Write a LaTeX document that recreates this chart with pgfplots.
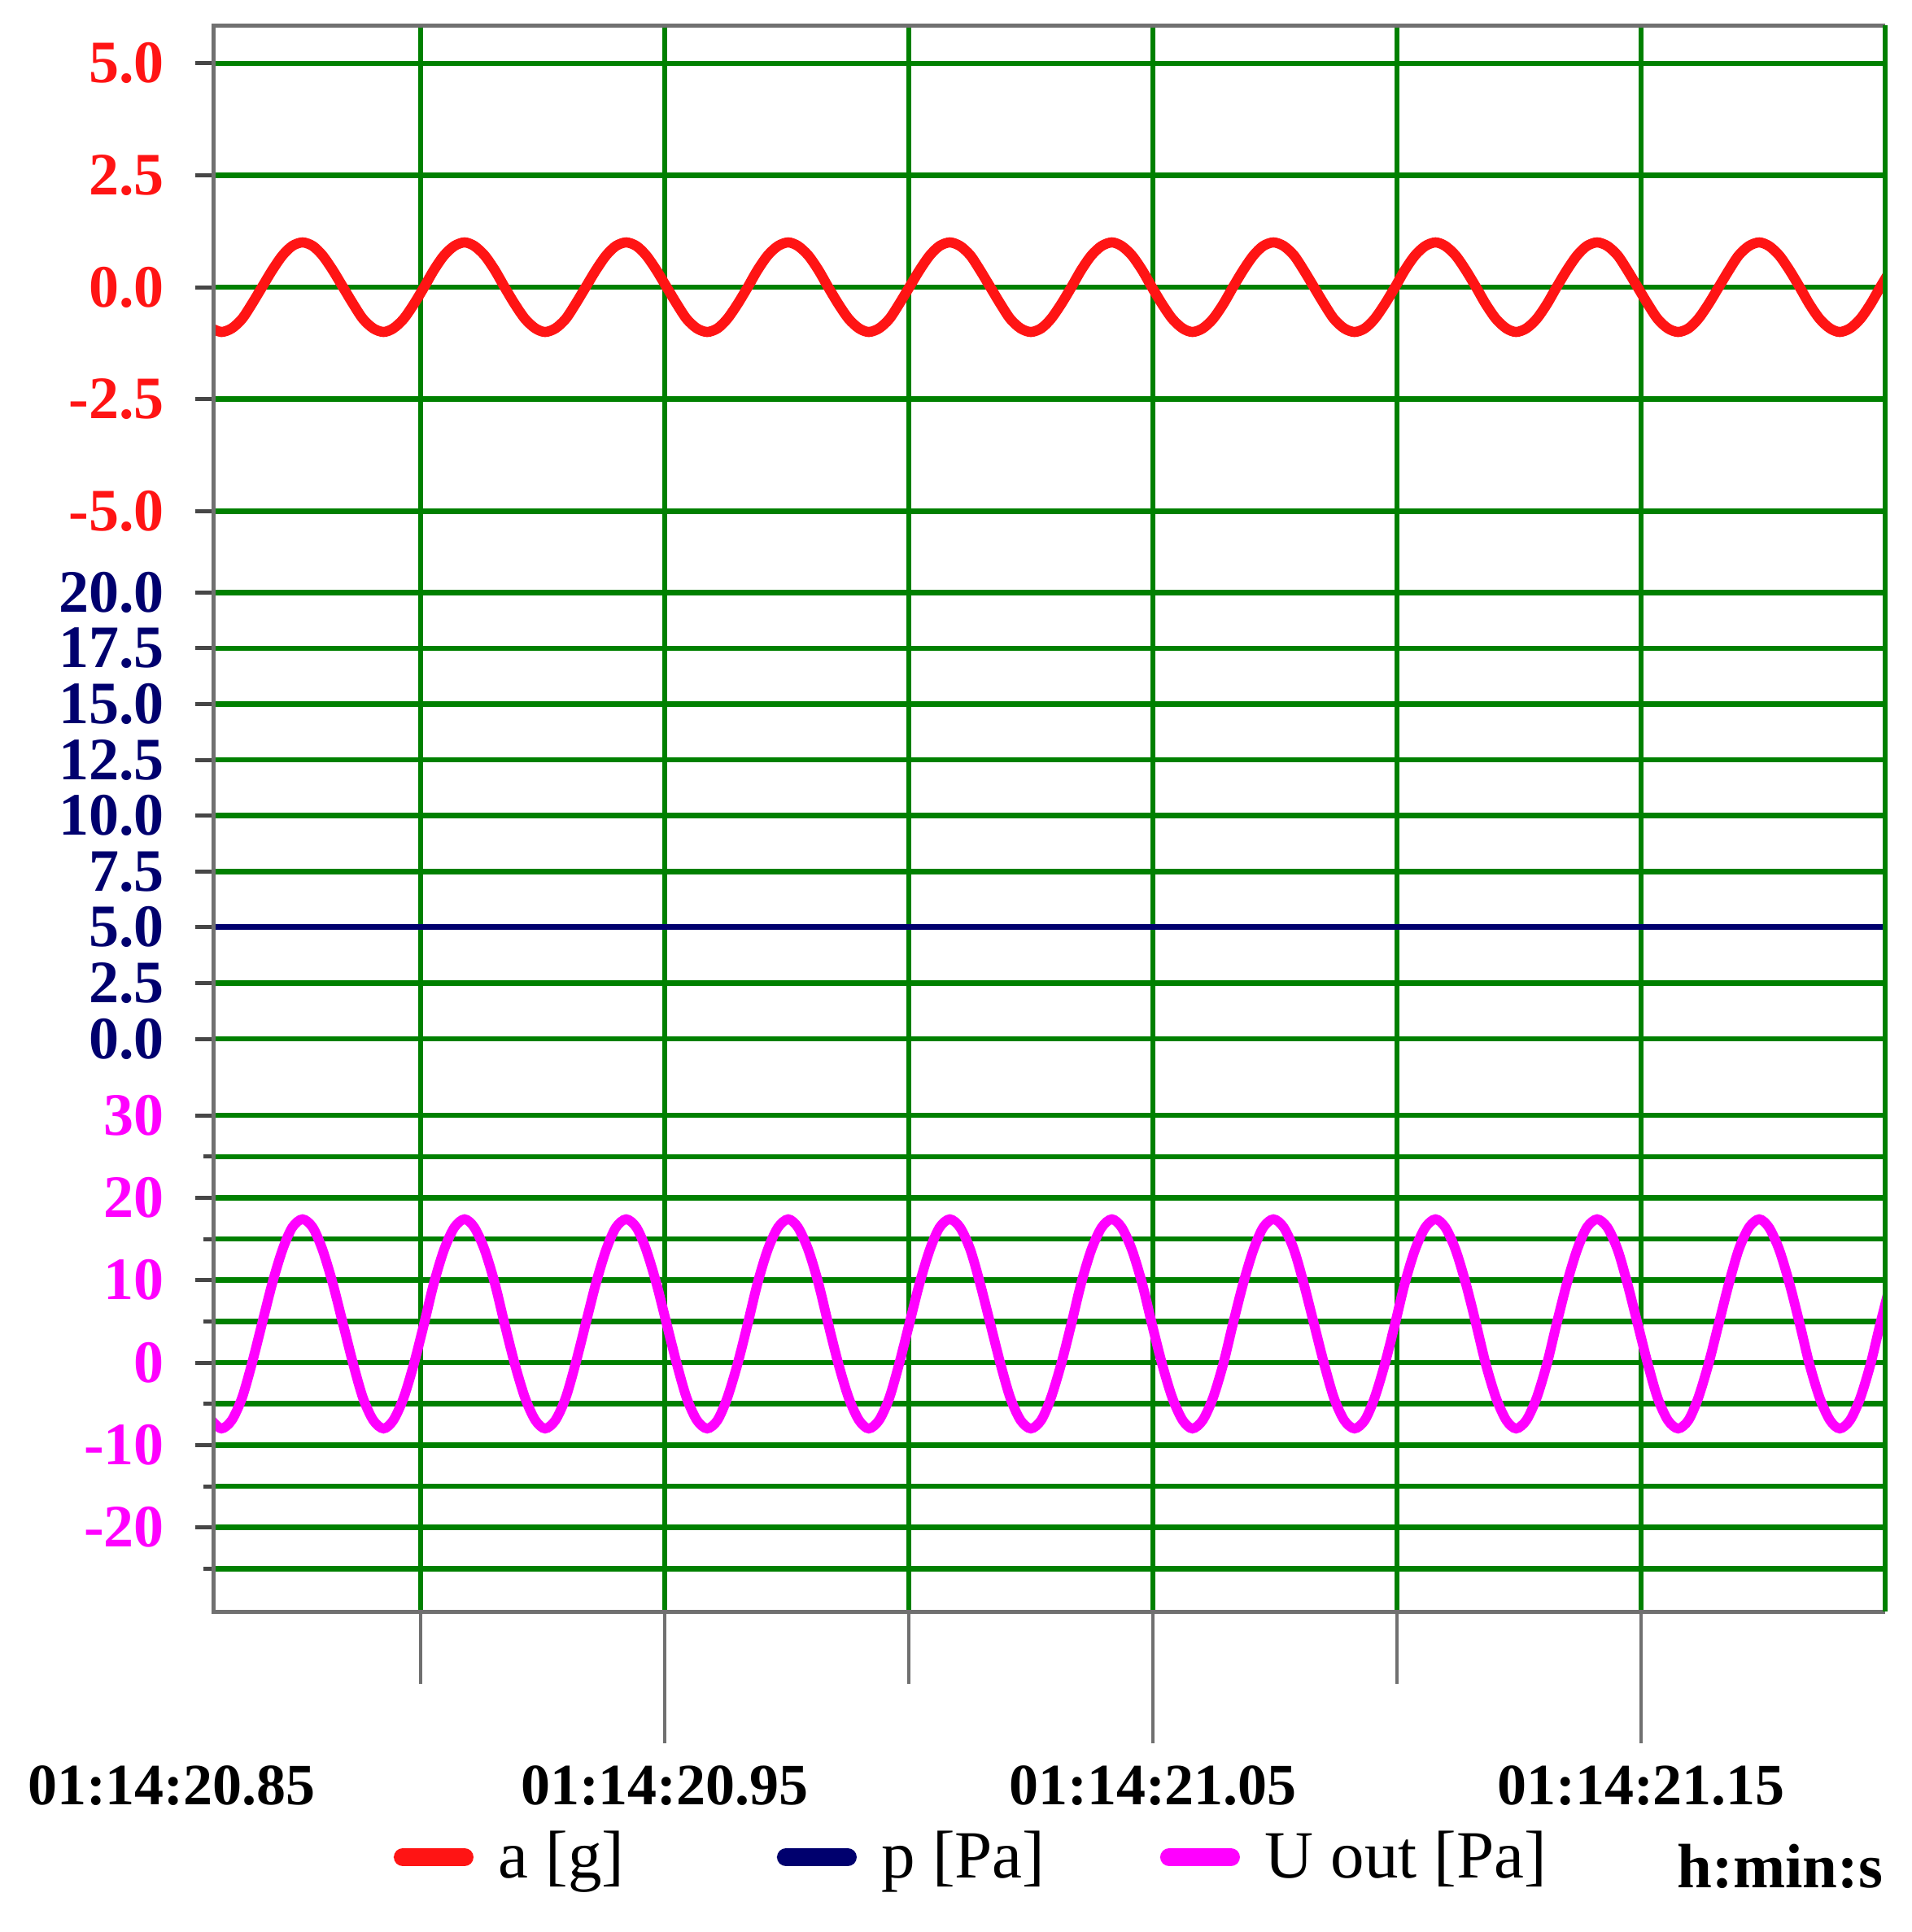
\documentclass[border=0pt]{standalone}
\usepackage{pgfplots}
\pgfplotsset{compat=1.18}
\usepackage{pgfplotstable}
\usepackage{fontspec}
\setmainfont{Liberation Serif}

\definecolor{gridgreen}{RGB}{0,128,0}
\definecolor{framegray}{RGB}{112,112,112}
\definecolor{tickgray}{RGB}{70,70,70}
\definecolor{ared}{RGB}{255,20,20}
\definecolor{pnavy}{RGB}{0,0,110}
\definecolor{umag}{RGB}{255,0,255}

% t = seconds after 01:14:20, a [g], p [Pa], U out [Pa]
\pgfplotstableread{
t a p u
0.8572 -0.92 5.0 -7.0
0.8592 -1.00 5.0 -8.0
0.8613 -0.92 5.0 -7.0
0.8634 -0.71 5.0 -4.3
0.8654 -0.38 5.0 -0.2
0.8675 0.00 5.0 4.7
0.8696 0.38 5.0 9.6
0.8717 0.71 5.0 13.7
0.8737 0.92 5.0 16.4
0.8758 1.00 5.0 17.4
0.8779 0.92 5.0 16.4
0.8799 0.71 5.0 13.7
0.8820 0.38 5.0 9.6
0.8841 0.00 5.0 4.7
0.8862 -0.38 5.0 -0.2
0.8882 -0.71 5.0 -4.3
0.8903 -0.92 5.0 -7.0
0.8924 -1.00 5.0 -8.0
0.8944 -0.92 5.0 -7.0
0.8965 -0.71 5.0 -4.3
0.8986 -0.38 5.0 -0.2
0.9007 0.00 5.0 4.7
0.9027 0.38 5.0 9.6
0.9048 0.71 5.0 13.7
0.9069 0.92 5.0 16.4
0.9090 1.00 5.0 17.4
0.9110 0.92 5.0 16.4
0.9131 0.71 5.0 13.7
0.9152 0.38 5.0 9.6
0.9172 0.00 5.0 4.7
0.9193 -0.38 5.0 -0.2
0.9214 -0.71 5.0 -4.3
0.9235 -0.92 5.0 -7.0
0.9255 -1.00 5.0 -8.0
0.9276 -0.92 5.0 -7.0
0.9297 -0.71 5.0 -4.3
0.9317 -0.38 5.0 -0.2
0.9338 0.00 5.0 4.7
0.9359 0.38 5.0 9.6
0.9380 0.71 5.0 13.7
0.9400 0.92 5.0 16.4
0.9421 1.00 5.0 17.4
0.9442 0.92 5.0 16.4
0.9462 0.71 5.0 13.7
0.9483 0.38 5.0 9.6
0.9504 0.00 5.0 4.7
0.9525 -0.38 5.0 -0.2
0.9545 -0.71 5.0 -4.3
0.9566 -0.92 5.0 -7.0
0.9587 -1.00 5.0 -8.0
0.9608 -0.92 5.0 -7.0
0.9628 -0.71 5.0 -4.3
0.9649 -0.38 5.0 -0.2
0.9670 0.00 5.0 4.7
0.9690 0.38 5.0 9.6
0.9711 0.71 5.0 13.7
0.9732 0.92 5.0 16.4
0.9753 1.00 5.0 17.4
0.9773 0.92 5.0 16.4
0.9794 0.71 5.0 13.7
0.9815 0.38 5.0 9.6
0.9835 0.00 5.0 4.7
0.9856 -0.38 5.0 -0.2
0.9877 -0.71 5.0 -4.3
0.9898 -0.92 5.0 -7.0
0.9918 -1.00 5.0 -8.0
0.9939 -0.92 5.0 -7.0
0.9960 -0.71 5.0 -4.3
0.9980 -0.38 5.0 -0.2
1.0001 0.00 5.0 4.7
1.0022 0.38 5.0 9.6
1.0043 0.71 5.0 13.7
1.0063 0.92 5.0 16.4
1.0084 1.00 5.0 17.4
1.0105 0.92 5.0 16.4
1.0126 0.71 5.0 13.7
1.0146 0.38 5.0 9.6
1.0167 0.00 5.0 4.7
1.0188 -0.38 5.0 -0.2
1.0208 -0.71 5.0 -4.3
1.0229 -0.92 5.0 -7.0
1.0250 -1.00 5.0 -8.0
1.0271 -0.92 5.0 -7.0
1.0291 -0.71 5.0 -4.3
1.0312 -0.38 5.0 -0.2
1.0333 0.00 5.0 4.7
1.0353 0.38 5.0 9.6
1.0374 0.71 5.0 13.7
1.0395 0.92 5.0 16.4
1.0416 1.00 5.0 17.4
1.0436 0.92 5.0 16.4
1.0457 0.71 5.0 13.7
1.0478 0.38 5.0 9.6
1.0498 0.00 5.0 4.7
1.0519 -0.38 5.0 -0.2
1.0540 -0.71 5.0 -4.3
1.0561 -0.92 5.0 -7.0
1.0581 -1.00 5.0 -8.0
1.0602 -0.92 5.0 -7.0
1.0623 -0.71 5.0 -4.3
1.0644 -0.38 5.0 -0.2
1.0664 0.00 5.0 4.7
1.0685 0.38 5.0 9.6
1.0706 0.71 5.0 13.7
1.0726 0.92 5.0 16.4
1.0747 1.00 5.0 17.4
1.0768 0.92 5.0 16.4
1.0789 0.71 5.0 13.7
1.0809 0.38 5.0 9.6
1.0830 0.00 5.0 4.7
1.0851 -0.38 5.0 -0.2
1.0871 -0.71 5.0 -4.3
1.0892 -0.92 5.0 -7.0
1.0913 -1.00 5.0 -8.0
1.0934 -0.92 5.0 -7.0
1.0954 -0.71 5.0 -4.3
1.0975 -0.38 5.0 -0.2
1.0996 0.00 5.0 4.7
1.1016 0.38 5.0 9.6
1.1037 0.71 5.0 13.7
1.1058 0.92 5.0 16.4
1.1079 1.00 5.0 17.4
1.1099 0.92 5.0 16.4
1.1120 0.71 5.0 13.7
1.1141 0.38 5.0 9.6
1.1162 0.00 5.0 4.7
1.1182 -0.38 5.0 -0.2
1.1203 -0.71 5.0 -4.3
1.1224 -0.92 5.0 -7.0
1.1244 -1.00 5.0 -8.0
1.1265 -0.92 5.0 -7.0
1.1286 -0.71 5.0 -4.3
1.1307 -0.38 5.0 -0.2
1.1327 0.00 5.0 4.7
1.1348 0.38 5.0 9.6
1.1369 0.71 5.0 13.7
1.1389 0.92 5.0 16.4
1.1410 1.00 5.0 17.4
1.1431 0.92 5.0 16.4
1.1452 0.71 5.0 13.7
1.1472 0.38 5.0 9.6
1.1493 0.00 5.0 4.7
1.1514 -0.38 5.0 -0.2
1.1534 -0.71 5.0 -4.3
1.1555 -0.92 5.0 -7.0
1.1576 -1.00 5.0 -8.0
1.1597 -0.92 5.0 -7.0
1.1617 -0.71 5.0 -4.3
1.1638 -0.38 5.0 -0.2
1.1659 0.00 5.0 4.7
1.1680 0.38 5.0 9.6
1.1700 0.71 5.0 13.7
1.1721 0.92 5.0 16.4
1.1742 1.00 5.0 17.4
1.1762 0.92 5.0 16.4
1.1783 0.71 5.0 13.7
1.1804 0.38 5.0 9.6
1.1825 0.00 5.0 4.7
1.1845 -0.38 5.0 -0.2
1.1866 -0.71 5.0 -4.3
1.1887 -0.92 5.0 -7.0
1.1907 -1.00 5.0 -8.0
1.1928 -0.92 5.0 -7.0
1.1949 -0.71 5.0 -4.3
1.1970 -0.38 5.0 -0.2
1.1990 0.00 5.0 4.7
1.2011 0.38 5.0 9.6
}\signals

\pgfplotsset{
  panel/.style={
    scale only axis, width=411pt,
    xmin=0.8575, xmax=1.2,
    axis line style={draw=none},
    xtick={0.95,1.05,1.15}, minor xtick={0.9,1.0,1.1},
    xticklabels={}, xtick style={draw=none},
    xmajorgrids, xminorgrids, ymajorgrids, yminorgrids,
    major grid style={gridgreen, line width=1.3pt},
    minor grid style={gridgreen, line width=1.3pt},
    tick pos=left, tick align=outside,
    major tick length=4.4pt, minor tick length=2.4pt,
    ytick style={tickgray, line width=1pt},
    yticklabel style={font=\bfseries\fontsize{14.8pt}{17pt}\selectfont,
      anchor=east, inner sep=0pt, xshift=-7.4pt},
  },
}

\begin{document}
\begin{tikzpicture}
\path[use as bounding box] (0pt,0pt) rectangle (470pt,-475pt);

% a [g]
\begin{axis}[panel, at={(52.4pt,-6.2pt)}, anchor=north west, height=129.8pt,
  ymin=-5.94, ymax=5.85,
  ytick={-5,-2.5,0,2.5,5}, yticklabels={-5.0,-2.5,0.0,2.5,5.0},
  yticklabel style={text=ared}]
\addplot[ared, line width=2.5pt, smooth] table[x=t, y=a]{\signals};
\end{axis}

% p [Pa]
\begin{axis}[panel, at={(52.4pt,-136pt)}, anchor=north west, height=129.4pt,
  ymin=-1.82, ymax=21.76,
  ytick={0,2.5,5,7.5,10,12.5,15,17.5,20},
  yticklabels={0.0,2.5,5.0,7.5,10.0,12.5,15.0,17.5,20.0},
  yticklabel style={text=pnavy}]
\addplot[pnavy, line width=1.4pt] table[x=t, y=p]{\signals};
\end{axis}

% U out [Pa]
\begin{axis}[panel, at={(52.4pt,-265.4pt)}, anchor=north west, height=130.8pt,
  ymin=-30.2, ymax=34.35,
  ytick={-20,-10,0,10,20,30}, yticklabels={-20,-10,0,10,20,30},
  minor ytick={-25,-15,-5,5,15,25},
  yticklabel style={text=umag}]
\addplot[umag, line width=2.4pt, smooth] table[x=t, y=u]{\signals};
\end{axis}

% time axis and legend
\begin{axis}[scale only axis, width=411pt, height=130.8pt,
  at={(52.4pt,-265.4pt)}, anchor=north west,
  xmin=0.8575, xmax=1.2, ymin=0, ymax=1,
  hide y axis, axis line style={draw=none},
  tick pos=left, tick align=outside,
  xtick={0.95,1.05,1.15}, minor xtick={0.9,1.0,1.1},
  xticklabels={01:14:20.95,01:14:21.05,01:14:21.15},
  major tick length=32.4pt, minor tick length=17.8pt,
  xtick style={framegray, line width=0.9pt},
  xticklabel style={font=\bfseries\fontsize{14.4pt}{17pt}\selectfont,
    anchor=base, inner sep=0pt, yshift=-15pt},
  legend columns=3,
  legend style={draw=none, fill=none, inner sep=0pt,
    at={(0.10706,-0.4618)}, anchor=west,
    font=\fontsize{16.6pt}{19pt}\selectfont,
    nodes={inner sep=0pt},
    /tikz/every odd column/.append style={column sep=6pt}},
  legend image code/.code={
    \draw[#1, line width=4.4pt, line cap=round] (2.2pt,0pt) -- (17.4pt,0pt);
    \path (0pt,0pt) rectangle (19.6pt,0pt);}]
\addlegendimage{ared}
\addlegendentry{\makebox[68.2pt][l]{a [g]}}
\addlegendimage{pnavy}
\addlegendentry{\makebox[68.2pt][l]{p [Pa]}}
\addlegendimage{umag}
\addlegendentry{U out [Pa]}
\end{axis}

% frame
\draw[framegray, line width=1pt] (463.4pt,-6.2pt) -- (52.4pt,-6.2pt)
  -- (52.4pt,-396.2pt) -- (463.4pt,-396.2pt);
\draw[gridgreen, line width=1.3pt] (463.4pt,-6.2pt) -- (463.4pt,-396.2pt);

\node[anchor=base, inner sep=0pt, font=\bfseries\fontsize{14.4pt}{17pt}\selectfont]
  at (42.2pt,-443.6pt) {01:14:20.85};
\node[anchor=base east, inner sep=0pt, font=\bfseries\fontsize{15.4pt}{18pt}\selectfont]
  at (463pt,-464pt) {h:min:s};
\end{tikzpicture}
\end{document}
